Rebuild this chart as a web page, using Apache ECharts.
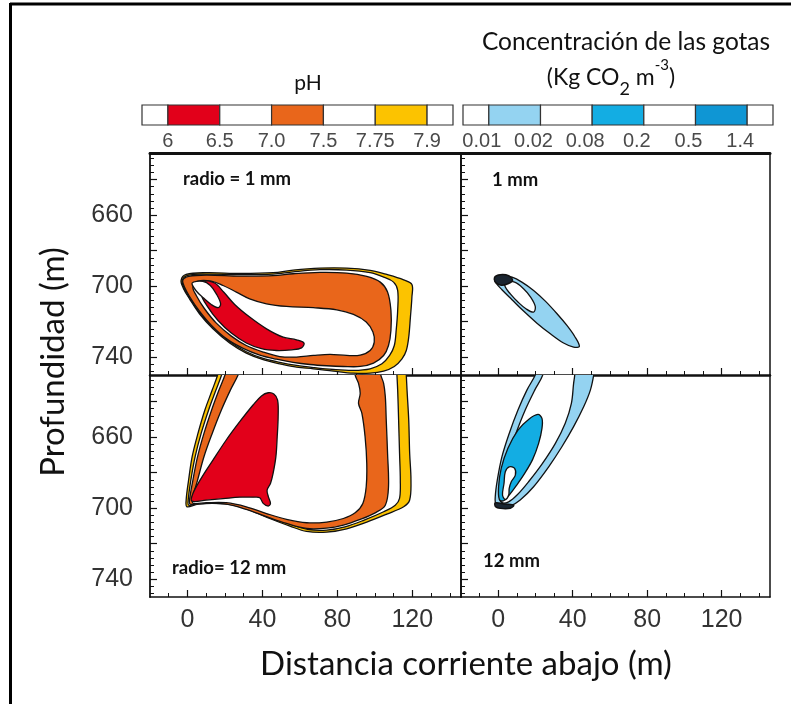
<!DOCTYPE html>
<html><head><meta charset="utf-8">
<script src="https://cdn.jsdelivr.net/npm/echarts@6/dist/echarts.min.js"></script>
<style>html,body{margin:0;padding:0;background:#fff}#c{width:791px;height:704px}</style>
</head><body><div id="c"></div>
<script>
// ---------- tick labels ----------
const xTickLabels = [0, 40, 80, 120];
const yTickLabels = [660, 700, 740];
const pHLabels = ['6', '6.5', '7.0', '7.5', '7.75', '7.9'];
const pHColors = ['#ffffff', '#e2001a', '#ffffff', '#e9661b', '#ffffff', '#fcc300', '#ffffff'];
const concLabels = ['0.01', '0.02', '0.08', '0.2', '0.5', '1.4'];
const concColors = ['#ffffff', '#94d3f1', '#ffffff', '#13ade3', '#ffffff', '#0f96d4', '#ffffff'];

// ---------- pH contours, radio = 1 mm  [distance m, depth m] ----------
const ph1_79 = [[-3.4,696.7],[-0.7,693.4],[10.0,692.4],[27.9,692.8],[45.7,692.4],[56.4,690.9],[70.7,689.8],[85.0,689.8],[97.5,691.1],[106.4,693.4],[115.4,696.4],[119.8,699.0],[119.8,706.1],[119.0,717.4],[118.1,728.7],[116.8,736.2],[114.5,740.9],[110.4,745.2],[104.7,747.8],[97.5,749.0],[88.6,749.0],[77.9,747.8],[67.2,746.5],[58.2,745.6],[49.3,743.7],[40.4,741.4],[31.4,737.7],[22.5,732.0],[13.6,724.0],[6.4,715.5],[1.1,707.1],[-2.1,701.4]];
const ph1_775 = [[-2.8,696.7],[0.2,693.9],[10.0,693.2],[27.9,693.5],[45.7,693.2],[56.4,691.9],[70.7,690.7],[85.0,690.9],[97.5,692.4],[104.7,694.9],[110.0,697.7],[112.2,702.4],[112.2,713.6],[111.4,724.9],[110.4,733.4],[107.9,739.0],[103.8,743.7],[97.5,746.5],[88.6,747.4],[77.9,746.9],[67.2,745.8],[58.2,744.6],[49.3,742.9],[40.4,740.7],[31.4,736.9],[22.5,731.3],[13.6,723.2],[6.4,714.8],[1.1,706.5],[-1.8,701.1]];
const ph1_75 = [[-2.5,696.7],[0.7,694.5],[10.0,693.7],[27.9,694.3],[45.7,694.1],[56.4,693.0],[70.7,692.2],[85.0,692.6],[95.7,694.5],[102.9,697.7],[106.8,703.3],[108.6,713.6],[108.6,724.9],[107.3,733.4],[104.7,739.0],[99.3,743.3],[92.2,745.2],[83.2,745.2],[74.3,744.8],[65.4,744.1],[56.4,742.9],[47.5,741.1],[38.6,738.8],[29.7,735.0],[21.1,729.8],[12.7,721.9],[6.1,713.6],[1.1,705.8],[-1.4,700.9]];
const ph1_70 = [[5.6,697.1],[12.7,697.1],[19.0,699.6],[26.1,703.3],[33.2,707.1],[42.2,709.9],[52.9,711.4],[67.2,712.1],[79.7,713.3],[88.6,715.9],[95.4,720.2],[99.0,725.8],[99.7,731.5],[97.5,736.2],[92.2,738.8],[85.0,739.0],[76.1,738.4],[67.2,739.0],[58.2,739.9],[49.3,739.6],[40.4,737.1],[31.4,733.4],[23.4,728.1],[15.4,720.8],[9.1,712.7],[4.7,705.2],[2.9,700.5]];
const ph1_65 = [[9.1,697.5],[14.5,698.2],[19.3,703.3],[25.2,710.3],[33.2,717.4],[42.2,724.0],[51.1,728.7],[58.2,730.2],[62.2,732.0],[60.9,734.7],[55.6,735.8],[47.5,736.2],[39.5,735.2],[31.4,732.0],[23.4,726.4],[16.3,719.3],[10.9,711.8],[7.3,704.3]];
const ph1_60 = [[2.5,698.2],[8.2,697.3],[12.2,699.6],[15.4,704.3],[17.7,709.9],[16.4,712.1],[12.7,710.3],[8.6,706.7],[4.7,702.7]];

// ---------- pH contours, radio = 12 mm ----------
const ph12_79 = [[18.2,616.6],[16.1,625.0],[13.2,633.5],[9.3,644.7],[5.6,657.9],[2.5,671.0],[0.6,684.2],[-0.7,695.4],[-0.3,699.2],[5.6,697.7],[15.4,697.3],[24.3,698.3],[33.2,701.1],[43.9,705.8],[54.7,710.1],[63.6,713.1],[74.3,713.5],[85.0,711.6],[95.7,707.8],[106.4,703.3],[115.4,699.2],[118.6,695.4],[119.3,684.2],[118.6,669.1],[118.1,650.4],[117.2,633.5],[116.8,625.0],[116.4,616.6]];
const ph12_775 = [[20.4,616.6],[18.2,625.0],[15.2,633.5],[11.3,644.7],[7.3,657.9],[4.1,671.0],[1.8,684.2],[0.4,695.4],[0.7,698.3],[6.4,697.3],[16.3,696.9],[25.2,697.9],[34.1,700.5],[44.8,705.2],[55.6,709.3],[64.5,712.0],[74.3,712.3],[84.1,710.5],[94.3,706.7],[104.7,702.0],[110.9,698.3],[113.2,694.5],[113.6,684.2],[113.2,669.1],[112.7,650.4],[112.2,633.5],[111.8,625.0],[111.4,616.6]];
const ph12_75 = [[22.2,616.6],[20.0,625.0],[16.8,633.5],[12.9,644.7],[8.8,657.9],[5.4,671.0],[2.9,684.2],[1.1,695.4],[1.4,697.7],[10.0,697.3],[20.7,697.7],[31.4,700.7],[42.2,704.8],[52.9,708.6],[63.6,711.4],[74.3,711.2],[83.2,709.5],[92.2,706.3],[100.2,702.6],[105.6,698.3],[107.3,687.9],[106.8,669.1],[106.1,650.4],[105.6,637.2],[104.7,629.7],[103.2,625.0],[102.0,616.6]];
const ph12_70 = [[29.7,616.6],[27.0,625.0],[22.9,633.5],[18.1,644.7],[13.2,657.9],[8.8,671.0],[5.4,684.2],[2.5,695.4],[3.2,697.3],[10.0,696.9],[20.7,696.9],[31.4,699.2],[42.2,703.0],[52.9,706.3],[63.6,708.2],[74.3,707.8],[83.2,705.8],[89.5,702.6],[93.6,697.3],[95.4,687.9],[95.7,674.8],[94.8,659.8],[93.1,646.6],[91.3,641.0],[92.2,635.3],[91.3,629.7],[89.5,625.0],[88.6,616.6]];
const ph12_65 = [[43.1,635.0],[46.1,635.7],[48.1,639.1],[48.4,648.5],[47.9,659.8],[47.2,671.0],[45.7,680.4],[44.3,686.1],[42.5,689.8],[43.2,693.6],[44.3,697.3],[43.1,698.8],[40.4,697.3],[38.6,694.1],[35.0,693.8],[27.9,693.8],[19.0,694.6],[10.0,695.4],[2.4,696.0],[2.9,691.7],[7.3,683.2],[13.6,672.9],[20.7,661.6],[27.9,651.3],[35.0,641.9],[39.5,636.8]];

// ---------- droplet concentration contours, radio = 1 mm ----------
const c1_001 = [[-1.9,695.8],[2.0,694.1],[7.4,694.9],[12.7,697.7],[19.0,702.4],[25.3,708.4],[31.6,715.5],[36.9,722.1],[41.1,728.3],[43.6,733.9],[40.5,734.3],[35.1,732.0],[28.0,726.8],[20.8,720.8],[13.6,714.0],[7.4,707.6],[2.0,702.0],[-1.2,698.2]];
const c1_002 = [[3.8,697.7],[8.8,697.7],[13.6,701.4],[17.4,706.1],[19.9,711.4],[19.0,714.6],[14.9,712.7],[10.6,708.9],[6.5,704.3],[3.8,700.5]];
const c1_tip = [[-1.9,694.9],[1.1,693.5],[5.6,694.1],[7.7,696.7],[5.2,698.6],[1.6,699.4],[-1.4,697.9]];

// ---------- droplet concentration contours, radio = 12 mm ----------
const c12_001 = [[22.6,616.6],[19.9,625.0],[15.4,633.5],[10.6,644.7],[5.9,657.9],[2.0,671.0],[-0.5,684.2],[-1.6,693.6],[-1.2,698.3],[1.6,699.6],[6.5,698.8],[11.8,695.4],[19.0,687.9],[27.1,676.7],[34.2,665.4],[40.5,654.1],[45.9,642.9],[49.5,633.5],[51.3,625.0],[52.2,616.6]];
const c12_002 = [[24.9,616.6],[23.9,625.0],[19.6,633.5],[14.5,644.7],[9.5,657.9],[5.2,671.0],[2.3,684.2],[0.7,693.6],[2.0,696.9],[5.6,696.4],[10.1,692.6],[16.3,685.1],[23.5,675.2],[30.7,663.5],[36.0,652.2],[39.3,641.0],[40.5,629.7],[41.1,625.0],[41.4,616.6]];
const c12_008 = [[21.3,647.2],[23.5,649.4],[23.5,655.1],[21.7,663.5],[18.5,672.5],[14.2,680.4],[9.9,687.0],[5.9,692.6],[2.9,695.8],[0.6,695.1],[0.2,687.9],[1.6,677.6],[5.2,666.3],[10.6,656.0],[16.3,650.0]];
const c12_02 = [[5.9,676.7],[8.8,677.6],[9.2,681.4],[7.0,685.1],[5.9,688.9],[5.6,692.6],[3.8,695.1],[2.3,692.6],[3.1,686.1],[3.8,679.5]];
const c12_tip = [[-1.6,697.0],[3.8,697.7],[8.3,698.3],[6.5,700.0],[1.1,700.1],[-1.4,699.2]];

// ---------- layout ----------
const panelGrids = [
  {left: 150, top: 153, width: 311, height: 222},
  {left: 461, top: 153, width: 309, height: 222},
  {left: 150, top: 375, width: 311, height: 222},
  {left: 461, top: 375, width: 309, height: 222}
];
const minorX = []; for (let v = -10; v <= 140; v += 10) minorX.push(v);
const minorY = []; for (let v = 628; v <= 748; v += 4) minorY.push(v);
const majorY = []; for (let v = 640; v <= 740; v += 20) majorY.push(v);
const INK = '#111';
const tickFont = {fontFamily: 'Liberation Sans', fontSize: 25, color: '#333'};

const grid = [], xAxis = [], yAxis = [], series = [];
const ax = []; // per panel: {x, y}
panelGrids.forEach((g, i) => {
  grid.push(Object.assign({containLabel: false}, g));
  const top = i < 2;
  const xi = xAxis.length;
  xAxis.push({gridIndex: i, type: 'value', min: -20, max: 146, position: 'bottom',
    axisLine: {show: true, onZero: false, lineStyle: {color: INK, width: top ? 2.5 : 1.5}},
    axisTick: {show: true, inside: true, length: 4, customValues: minorX, lineStyle: {color: INK, width: 1}},
    axisLabel: {show: false}, splitLine: {show: false}});
  xAxis.push({gridIndex: i, type: 'value', min: -20, max: 146, position: 'bottom',
    axisLine: {show: false, onZero: false},
    axisTick: {show: true, inside: true, length: 7, customValues: xTickLabels, lineStyle: {color: INK, width: 1.2}},
    axisLabel: Object.assign({show: !top, customValues: xTickLabels, margin: 11}, tickFont),
    splitLine: {show: false}});
  xAxis.push({gridIndex: i, type: 'value', min: -20, max: 146, position: 'top',
    axisLine: {show: top, onZero: false, lineStyle: {color: INK, width: 3}},
    axisTick: {show: false}, axisLabel: {show: false}, splitLine: {show: false}});
  const yi = yAxis.length;
  yAxis.push({gridIndex: i, type: 'value', min: 625, max: 750, inverse: true, position: 'left',
    axisLine: {show: true, onZero: false, lineStyle: {color: INK, width: 1.8}},
    axisTick: {show: true, inside: true, length: 4, customValues: minorY, lineStyle: {color: INK, width: 1}},
    axisLabel: {show: false}, splitLine: {show: false}});
  yAxis.push({gridIndex: i, type: 'value', min: 625, max: 750, inverse: true, position: 'left',
    axisLine: {show: false, onZero: false},
    axisTick: {show: true, inside: true, length: 7, customValues: majorY, lineStyle: {color: INK, width: 1.2}},
    axisLabel: Object.assign({show: i % 2 === 0, customValues: yTickLabels, margin: 17}, tickFont),
    splitLine: {show: false}});
  yAxis.push({gridIndex: i, type: 'value', min: 625, max: 750, inverse: true, position: 'right',
    axisLine: {show: true, onZero: false, lineStyle: {color: INK, width: 1.5}},
    axisTick: {show: false}, axisLabel: {show: false}, splitLine: {show: false}});
  ax.push({x: xi, y: yi + 1});
});

function poly(panel, data, color, lw) {
  series.push({
    type: 'custom', xAxisIndex: ax[panel].x, yAxisIndex: ax[panel].y, clip: true, silent: true,
    data: data, encode: {x: 0, y: 1}, animation: false,
    renderItem: function (params, api) {
      if (params.dataIndex !== 0) return null;
      const pts = data.map(p => api.coord(p));
      return {type: 'polygon', shape: {points: pts, smooth: 0.35},
        style: {fill: color, stroke: INK, lineWidth: lw || 1.3}};
    }
  });
}
// radio 1 mm, pH
poly(0, ph1_79, pHColors[5]);
poly(0, ph1_775, '#ffffff');
poly(0, ph1_75, pHColors[3]);
poly(0, ph1_70, '#ffffff');
poly(0, ph1_65, pHColors[1]);
poly(0, ph1_60, '#ffffff');
// radio 12 mm, pH
poly(2, ph12_79, pHColors[5]);
poly(2, ph12_775, '#ffffff');
poly(2, ph12_75, pHColors[3]);
poly(2, ph12_70, '#ffffff');
poly(2, ph12_65, pHColors[1]);
// 1 mm concentration
poly(1, c1_001, concColors[1]);
poly(1, c1_002, '#ffffff');
poly(1, c1_tip, '#1a2530', 1.5);
// 12 mm concentration
poly(3, c12_001, concColors[1]);
poly(3, c12_002, '#ffffff');
poly(3, c12_008, concColors[3]);
poly(3, c12_02, '#ffffff');
poly(3, c12_tip, '#1a2530', 1.5);

// ---------- colour bars ----------
function colorBar(gridDef, labels, colors, pad) {
  const gi = grid.length;
  grid.push(gridDef);
  const xi = xAxis.length, yi = yAxis.length;
  const vals = labels.map((_, k) => k + 1);
  xAxis.push({gridIndex: gi, type: 'value', min: 0.5, max: colors.length - 0.5,
    axisLine: {show: false, onZero: false}, axisTick: {show: false}, splitLine: {show: false},
    axisLabel: {customValues: vals, formatter: v => labels[Math.round(v) - 1], margin: 6,
      fontFamily: 'Liberation Sans', fontSize: 20, color: '#4a4a4a', padding: pad}});
  yAxis.push({gridIndex: gi, type: 'value', min: 0, max: 1, show: false});
  series.push({
    type: 'custom', xAxisIndex: xi, yAxisIndex: yi, silent: true, animation: false,
    data: colors.map((c, k) => [k]),
    renderItem: function (params, api) {
      const k = api.value(0);
      const s = k === 0 ? 0.5 : k, e = k === colors.length - 1 ? k + 0.5 : k + 1;
      const a = api.coord([s, 1]), b = api.coord([e, 0]);
      return {type: 'rect', shape: {x: a[0], y: a[1], width: b[0] - a[0], height: b[1] - a[1]},
        style: {fill: colors[k], stroke: '#333', lineWidth: 1.2}};
    }
  });
}
colorBar({left: 142, top: 105, width: 311, height: 20}, pHLabels, pHColors, [0, 0, 0, 0]);
colorBar({left: 463, top: 105, width: 310, height: 20}, concLabels, concColors, [0, 14, 0, 0]);

// ---------- text ----------
const calib = 'Lato';
const graphic = [
  {type: 'line', shape: {x1: 10, y1: 4, x2: 791, y2: 4}, style: {stroke: '#000', lineWidth: 3}},
  {type: 'line', shape: {x1: 10.5, y1: 3, x2: 10.5, y2: 704}, style: {stroke: '#000', lineWidth: 3}},
  {type: 'text', x: 308, y: 83, style: {text: 'pH', font: '21px ' + calib, fill: '#111', align: 'center', verticalAlign: 'middle'}},
  {type: 'text', x: 626, y: 42, style: {text: 'Concentración de las gotas', font: '24.5px ' + calib, fill: '#111', align: 'center', verticalAlign: 'middle'}},
  {type: 'text', x: 611, y: 78, style: {text: '{n|(Kg CO}{s|2}{n| m}{p|-3}{n|)}', align: 'center', verticalAlign: 'middle', fill: '#111',
    rich: {n: {fontFamily: calib, fontSize: 23, lineHeight: 40, verticalAlign: 'middle'},
           s: {fontFamily: calib, fontSize: 18, lineHeight: 16, verticalAlign: 'bottom'},
           p: {fontFamily: calib, fontSize: 15, lineHeight: 36, verticalAlign: 'top'}}}},
  {type: 'text', x: 53, y: 362, rotation: Math.PI / 2, style: {text: 'Profundidad (m)', font: '33px ' + calib, fill: '#111', align: 'center', verticalAlign: 'middle'}},
  {type: 'text', x: 466, y: 664, style: {text: 'Distancia corriente abajo (m)', font: '33px ' + calib, fill: '#111', align: 'center', verticalAlign: 'middle'}},
  {type: 'text', x: 183, y: 179, z: 100, style: {text: 'radio = 1 mm', font: 'bold 18.5px ' + calib, fill: '#111', align: 'left', verticalAlign: 'middle'}},
  {type: 'text', x: 172, y: 568, z: 100, style: {text: 'radio= 12 mm', font: 'bold 18.5px ' + calib, fill: '#111', align: 'left', verticalAlign: 'middle'}},
  {type: 'text', x: 492, y: 180, z: 100, style: {text: '1 mm', font: 'bold 18.5px ' + calib, fill: '#111', align: 'left', verticalAlign: 'middle'}},
  {type: 'text', x: 483, y: 561, z: 100, style: {text: '12 mm', font: 'bold 18.5px ' + calib, fill: '#111', align: 'left', verticalAlign: 'middle'}}
];

const chart = echarts.init(document.getElementById('c'), null, {renderer: 'canvas'});
chart.setOption({backgroundColor: '#ffffff', animation: false, grid, xAxis, yAxis, series, graphic});
</script></body></html>
